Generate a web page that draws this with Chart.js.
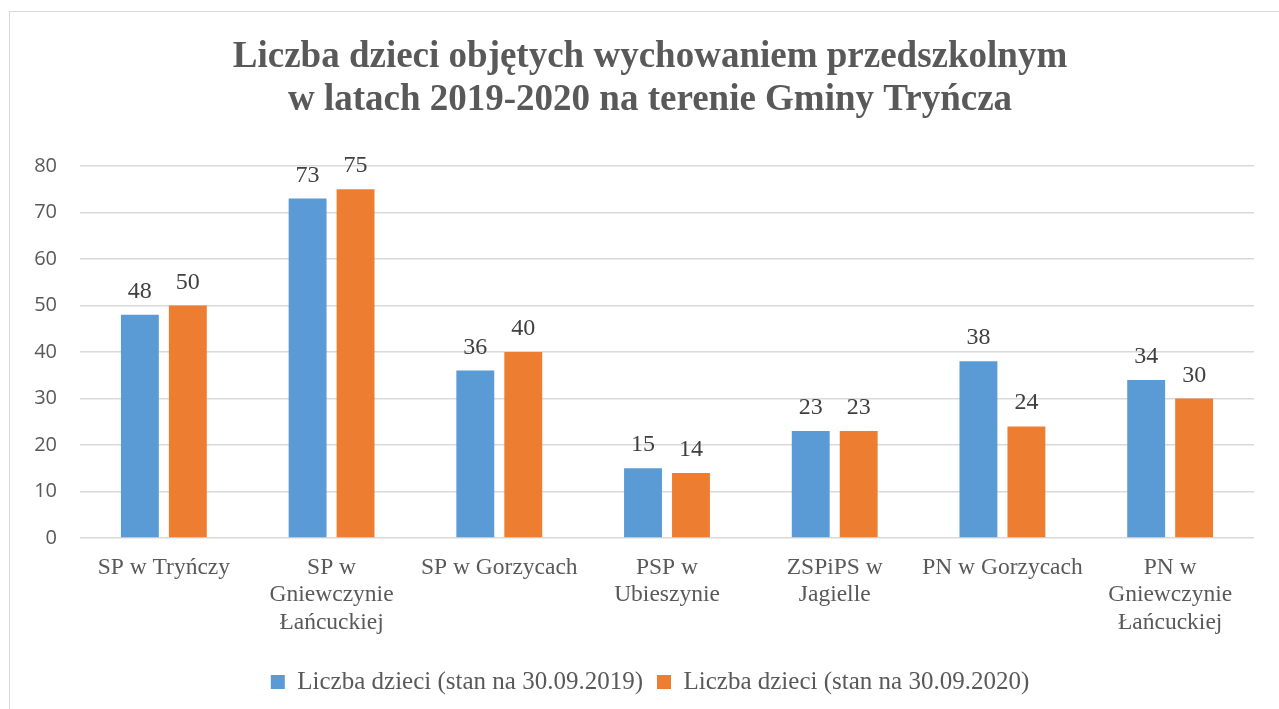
<!DOCTYPE html>
<html>
<head>
<meta charset="utf-8">
<script src="https://cdn.jsdelivr.net/npm/chart.js@4.4.1/dist/chart.umd.min.js"></script>
<style>
  html, body { margin: 0; padding: 0; background: #fff; overflow: hidden; width: 1279px; height: 709px; }
  #frame { position: absolute; left: 9px; top: 11px; width: 1400px; height: 800px; border-left: 1px solid #d9d9d9; border-top: 1px solid #d9d9d9; }
  #wrap { position: absolute; left: 0; top: 0; width: 1300px; height: 709px; }
</style>
</head>
<body>
<div id="frame"></div>
<div id="wrap"><canvas id="c"></canvas></div>
<script>
const titleLines = ['Liczba dzieci objętych wychowaniem przedszkolnym', 'w latach 2019-2020 na terenie Gminy Tryńcza'];
const categories = [
  ['SP w Tryńczy'],
  ['SP w', 'Gniewczynie', 'Łańcuckiej'],
  ['SP w Gorzycach'],
  ['PSP w', 'Ubieszynie'],
  ['ZSPiPS w', 'Jagielle'],
  ['PN w Gorzycach'],
  ['PN w', 'Gniewczynie', 'Łańcuckiej']
];
const seriesNames = ['Liczba dzieci (stan na 30.09.2019)', 'Liczba dzieci (stan na 30.09.2020)'];
const values2019 = [48, 73, 36, 15, 23, 38, 34];
const values2020 = [50, 75, 40, 14, 23, 24, 30];
const yTicks = [0, 10, 20, 30, 40, 50, 60, 70, 80];

const valueLabels = {
  id: 'valueLabels',
  afterDatasetsDraw(chart) {
    const ctx = chart.ctx;
    ctx.save();
    ctx.font = '24px "Liberation Serif", "Times New Roman", serif';
    ctx.fillStyle = '#404040';
    ctx.textAlign = 'center';
    ctx.textBaseline = 'alphabetic';
    chart.data.datasets.forEach((ds, i) => {
      const meta = chart.getDatasetMeta(i);
      meta.data.forEach((el, j) => {
        ctx.fillText(String(ds.data[j]), el.x, el.y - 17);
      });
    });
    ctx.restore();
  }
};

new Chart(document.getElementById('c'), {
  type: 'bar',
  data: {
    labels: categories,
    datasets: [
      { label: seriesNames[0], data: values2019, backgroundColor: '#5B9BD5', categoryPercentage: 0.572, barPercentage: 0.79 },
      { label: seriesNames[1], data: values2020, backgroundColor: '#ED7D31', categoryPercentage: 0.572, barPercentage: 0.79 }
    ]
  },
  options: {
    responsive: true,
    maintainAspectRatio: false,
    animation: false,
    layout: { padding: { left: 10, right: 10, top: 0, bottom: 4.5 } },
    plugins: {
      title: {
        display: true,
        text: titleLines,
        color: '#595959',
        font: { family: '"Liberation Serif", "Times New Roman", serif', size: 37, weight: 'bold', lineHeight: '43px' },
        padding: { top: 36, bottom: 44 }
      },
      legend: {
        position: 'bottom',
        labels: {
          color: '#595959',
          font: { family: '"Liberation Serif", "Times New Roman", serif', size: 25, lineHeight: 1.0 },
          boxWidth: 14,
          boxHeight: 14,
          padding: 14
        }
      },
      tooltip: { enabled: false }
    },
    scales: {
      x: {
        grid: { display: false },
        border: { display: false },
        ticks: {
          color: '#595959',
          font: { family: '"Liberation Serif", "Times New Roman", serif', size: 23.5, lineHeight: '27.5px' },
          padding: 8,
          autoSkip: false,
          maxRotation: 0
        },
        afterFit(scale) { scale.height = 117.5; }
      },
      y: {
        position: 'left',
        min: 0,
        max: 80,
        afterBuildTicks(scale) { scale.ticks = yTicks.map(v => ({ value: v })); },
        grid: { color: '#d9d9d9', lineWidth: 1.5, drawTicks: false },
        border: { display: false },
        ticks: {
          color: '#595959',
          font: { family: '"Open Sans", "Liberation Sans", sans-serif', size: 20 },
          padding: 23
        },
        afterFit(scale) { scale.width = 70; }
      },
      ySpace: {
        position: 'right',
        min: 0,
        max: 80,
        grid: { display: false, drawTicks: false },
        border: { display: false },
        ticks: { display: false },
        afterFit(scale) { scale.width = 36; }
      }
    }
  },
  plugins: [valueLabels]
});
</script>
</body>
</html>
